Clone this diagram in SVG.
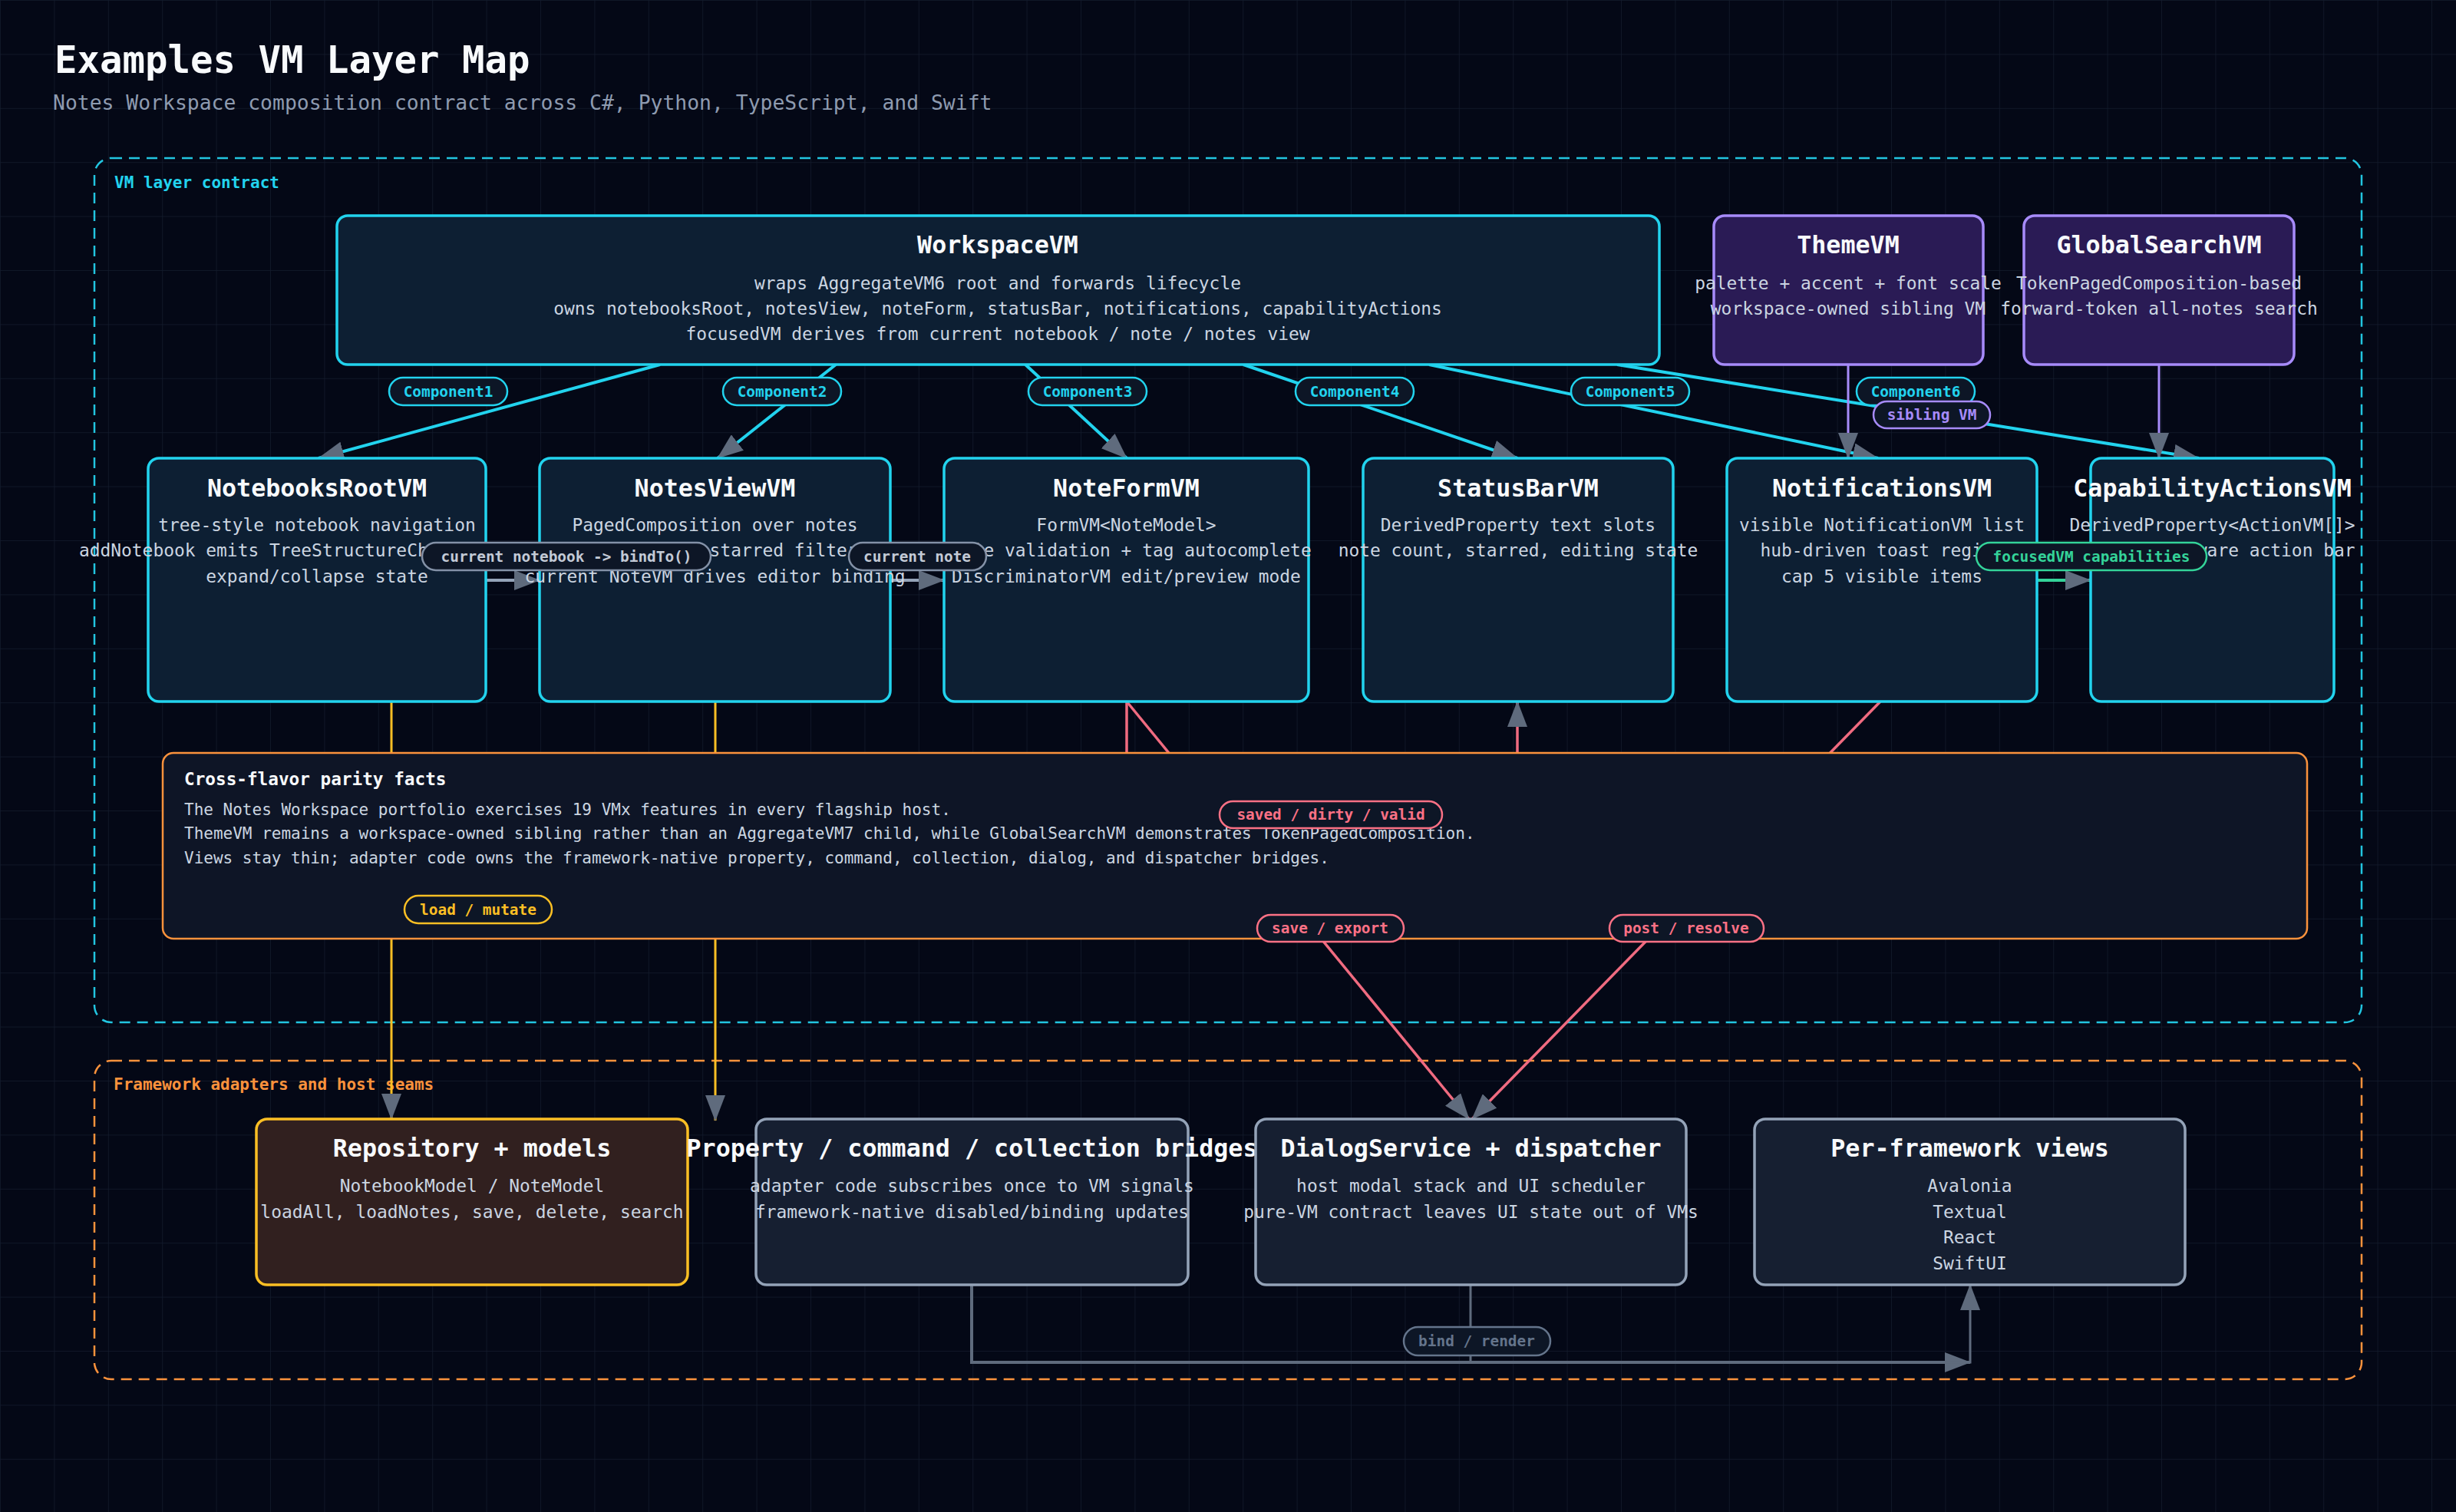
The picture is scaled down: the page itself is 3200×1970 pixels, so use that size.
<svg xmlns="http://www.w3.org/2000/svg" width="3200" height="1970" viewBox="0 0 3200 1970">
<defs>
<pattern id="grid" width="70.4" height="70.4" patternUnits="userSpaceOnUse">
<path d="M70.4 0 L0 0 L0 70.4" fill="none" stroke="#131b2d" stroke-width="1.5"/>
</pattern>
<marker id="arr" markerUnits="userSpaceOnUse" markerWidth="34" markerHeight="26" refX="33" refY="13" orient="auto">
<path d="M0,0 L34,13 L0,26 Z" fill="#5f6b7d"/>
</marker>
<style>
text{font-family:"DejaVu Sans Mono","Liberation Mono",monospace}
.ttl{font-size:31.7px;font-weight:700;fill:#f8fafc;text-anchor:middle}
.bd{font-size:22.9px;fill:#cbd5e1;text-anchor:middle}
.vm rect{fill:#0d1f33;stroke:#22d3ee;stroke-width:3.5}
.pv rect{fill:#2a1b55;stroke:#a78bfa;stroke-width:3.5}
.ad rect{fill:#161f31;stroke:#94a3b8;stroke-width:3.5}
.rp rect{fill:#31201f;stroke:#fbbf24;stroke-width:3.5}
.pl rect{fill:#0d1626;stroke-width:2.5}
.pl text{font-size:19.4px;font-weight:700;text-anchor:middle}
.c rect{stroke:#22d3ee}.c text{fill:#22d3ee}
.p rect{stroke:#a78bfa}.p text{fill:#a78bfa}
.g rect{stroke:#8391a7}.g text{fill:#c3cad6}
.gr rect{stroke:#34d399}.gr text{fill:#34d399}
.a rect{stroke:#fbbf24}.a text{fill:#fbbf24}
.r rect{stroke:#fb7185}.r text{fill:#fb7185}
.d rect{stroke:#64748b}.d text{fill:#64748b}
.e{fill:none}
</style>
</defs>
<rect width="3200" height="1970" fill="#040816"/>
<rect width="3200" height="1970" fill="url(#grid)"/>

<text x="71" y="95" font-size="49" font-weight="700" fill="#f8fafc">Examples VM Layer Map</text>
<text x="69" y="143" font-size="26.4" fill="#8e9bb0">Notes Workspace composition contract across C#, Python, TypeScript, and Swift</text>

<g id="group-vm-layer">
<rect x="123" y="206" width="2954" height="1126" rx="22" fill="none" stroke="#22c5e0" stroke-width="2.5" stroke-dasharray="14 9"/>
<text x="149" y="245" font-size="21" font-weight="700" fill="#22d3ee">VM layer contract</text>
</g>
<g id="group-framework">
<rect x="123" y="1382" width="2954" height="415" rx="22" fill="none" stroke="#fb923c" stroke-width="2.5" stroke-dasharray="14 9"/>
<text x="148" y="1420" font-size="21" font-weight="700" fill="#fb923c">Framework adapters and host seams</text>
</g>

<g id="connectors">
<path class="e" d="M860,475 L415,597" stroke="#22d3ee" stroke-width="4" marker-end="url(#arr)"/>
<path class="e" d="M1089,475 L935,597" stroke="#22d3ee" stroke-width="4" marker-end="url(#arr)"/>
<path class="e" d="M1336,475 L1468,597" stroke="#22d3ee" stroke-width="4" marker-end="url(#arr)"/>
<path class="e" d="M1620,475 L1977,597" stroke="#22d3ee" stroke-width="4" marker-end="url(#arr)"/>
<path class="e" d="M1862,475 L2447,597" stroke="#22d3ee" stroke-width="4" marker-end="url(#arr)"/>
<path class="e" d="M2107,475 L2865,597" stroke="#22d3ee" stroke-width="4" marker-end="url(#arr)"/>
<path class="e" d="M2408,475 L2408,597" stroke="#a78bfa" stroke-width="3" marker-end="url(#arr)"/>
<path class="e" d="M2813,475 L2813,597" stroke="#a78bfa" stroke-width="3" marker-end="url(#arr)"/>
<path class="e" d="M633,756 L703,756" stroke="#94a3b8" stroke-width="4" marker-end="url(#arr)"/>
<path class="e" d="M1160,756 L1230,756" stroke="#94a3b8" stroke-width="4" marker-end="url(#arr)"/>
<path class="e" d="M2654,756 L2724,756" stroke="#34d399" stroke-width="4" marker-end="url(#arr)"/>
<path class="e" d="M510,914 L510,1458" stroke="#fbbf24" stroke-width="3" marker-end="url(#arr)"/>
<path class="e" d="M932,914 L932,1460" stroke="#fbbf24" stroke-width="3" marker-end="url(#arr)"/>
<path class="e" d="M1468,914 V1061 H1977 V914" stroke="#f06b80" stroke-width="3.5" marker-end="url(#arr)"/>
<path class="e" d="M1468,914 L1914,1458" stroke="#f06b80" stroke-width="3.5" marker-end="url(#arr)"/>
<path class="e" d="M2450,914 L1918,1458" stroke="#f06b80" stroke-width="3.5" marker-end="url(#arr)"/>
<path class="e" d="M1266,1674 V1775 H2567" stroke="#5f6b7d" stroke-width="4" marker-end="url(#arr)"/>
<path class="e" d="M1916,1674 V1775 H2567 V1674" stroke="#5f6b7d" stroke-width="3" marker-end="url(#arr)"/>
</g>

<g id="node-workspacevm" class="vm">
<rect x="439" y="281" width="1723" height="194" rx="14"/>
<text class="ttl" x="1300" y="330">WorkspaceVM</text>
<text class="bd" x="1300" y="377">wraps AggregateVM6 root and forwards lifecycle</text>
<text class="bd" x="1300" y="410">owns notebooksRoot, notesView, noteForm, statusBar, notifications, capabilityActions</text>
<text class="bd" x="1300" y="443">focusedVM derives from current notebook / note / notes view</text>
</g>
<g id="node-themevm" class="pv">
<rect x="2233" y="281" width="351" height="194" rx="14"/>
<text class="ttl" x="2408" y="330">ThemeVM</text>
<text class="bd" x="2408" y="377">palette + accent + font scale</text>
<text class="bd" x="2408" y="410">workspace-owned sibling VM</text>
</g>
<g id="node-globalsearchvm" class="pv">
<rect x="2637" y="281" width="352" height="194" rx="14"/>
<text class="ttl" x="2813" y="330">GlobalSearchVM</text>
<text class="bd" x="2813" y="377">TokenPagedComposition-based</text>
<text class="bd" x="2813" y="410">forward-token all-notes search</text>
</g>

<g id="node-notebooksrootvm" class="vm">
<rect x="193" y="597" width="440" height="317" rx="14"/>
<text class="ttl" x="413" y="647">NotebooksRootVM</text>
<text class="bd" x="413" y="692">tree-style notebook navigation</text>
<text class="bd" x="413" y="725">addNotebook emits TreeStructureChanged events</text>
<text class="bd" x="413" y="759">expand/collapse state</text>
</g>
<g id="node-notesviewvm" class="vm">
<rect x="703" y="597" width="457" height="317" rx="14"/>
<text class="ttl" x="931.5" y="647">NotesViewVM</text>
<text class="bd" x="931.5" y="692">PagedComposition over notes</text>
<text class="bd" x="931.5" y="725">tag search + starred filter</text>
<text class="bd" x="931.5" y="759">current NoteVM drives editor binding</text>
</g>
<g id="node-noteformvm" class="vm">
<rect x="1230" y="597" width="475" height="317" rx="14"/>
<text class="ttl" x="1467.5" y="647">NoteFormVM</text>
<text class="bd" x="1467.5" y="692">FormVM&lt;NoteModel&gt;</text>
<text class="bd" x="1467.5" y="725">title validation + tag autocomplete</text>
<text class="bd" x="1467.5" y="759">DiscriminatorVM edit/preview mode</text>
</g>
<g id="node-statusbarvm" class="vm">
<rect x="1776" y="597" width="404" height="317" rx="14"/>
<text class="ttl" x="1978" y="647">StatusBarVM</text>
<text class="bd" x="1978" y="692">DerivedProperty text slots</text>
<text class="bd" x="1978" y="725">note count, starred, editing state</text>
</g>
<g id="node-notificationsvm" class="vm">
<rect x="2250" y="597" width="404" height="317" rx="14"/>
<text class="ttl" x="2452" y="647">NotificationsVM</text>
<text class="bd" x="2452" y="692">visible NotificationVM list</text>
<text class="bd" x="2452" y="725">hub-driven toast region</text>
<text class="bd" x="2452" y="759">cap 5 visible items</text>
</g>
<g id="node-capabilityactionsvm" class="vm">
<rect x="2724" y="597" width="317" height="317" rx="14"/>
<text class="ttl" x="2882.5" y="647">CapabilityActionsVM</text>
<text class="bd" x="2882.5" y="692">DerivedProperty&lt;ActionVM[]&gt;</text>
<text class="bd" x="2882.5" y="725">capability-aware action bar</text>
</g>

<g id="node-parity-facts">
<rect x="212" y="981" width="2794" height="242" rx="14" fill="#0e1526" stroke="#fb923c" stroke-width="2.5"/>
<text x="240" y="1023" font-size="22.7" font-weight="700" fill="#f8fafc">Cross-flavor parity facts</text>
<text x="240" y="1062" font-size="21" fill="#cbd5e1">The Notes Workspace portfolio exercises 19 VMx features in every flagship host.</text>
<text x="240" y="1093" font-size="21" fill="#cbd5e1">ThemeVM remains a workspace-owned sibling rather than an AggregateVM7 child, while GlobalSearchVM demonstrates TokenPagedComposition.</text>
<text x="240" y="1125" font-size="21" fill="#cbd5e1">Views stay thin; adapter code owns the framework-native property, command, collection, dialog, and dispatcher bridges.</text>
</g>

<g id="node-repository" class="rp">
<rect x="334" y="1458" width="562" height="216" rx="14"/>
<text class="ttl" x="615" y="1507">Repository + models</text>
<text class="bd" x="615" y="1553">NotebookModel / NoteModel</text>
<text class="bd" x="615" y="1587">loadAll, loadNotes, save, delete, search</text>
</g>
<g id="node-bridges" class="ad">
<rect x="985" y="1458" width="563" height="216" rx="14"/>
<text class="ttl" x="1266.5" y="1507">Property / command / collection bridges</text>
<text class="bd" x="1266.5" y="1553">adapter code subscribes once to VM signals</text>
<text class="bd" x="1266.5" y="1587">framework-native disabled/binding updates</text>
</g>
<g id="node-dialogservice" class="ad">
<rect x="1636" y="1458" width="561" height="216" rx="14"/>
<text class="ttl" x="1916.5" y="1507">DialogService + dispatcher</text>
<text class="bd" x="1916.5" y="1553">host modal stack and UI scheduler</text>
<text class="bd" x="1916.5" y="1587">pure-VM contract leaves UI state out of VMs</text>
</g>
<g id="node-views" class="ad">
<rect x="2286" y="1458" width="561" height="216" rx="14"/>
<text class="ttl" x="2566.5" y="1507">Per-framework views</text>
<text class="bd" x="2566.5" y="1553">Avalonia</text>
<text class="bd" x="2566.5" y="1587">Textual</text>
<text class="bd" x="2566.5" y="1620">React</text>
<text class="bd" x="2566.5" y="1654">SwiftUI</text>
</g>

<g id="edge-labels" class="pl">
<g class="c"><rect x="507" y="492" width="154" height="36" rx="18"/><text x="584" y="517">Component1</text></g>
<g class="c"><rect x="942" y="492" width="154" height="36" rx="18"/><text x="1019" y="517">Component2</text></g>
<g class="c"><rect x="1340" y="492" width="154" height="36" rx="18"/><text x="1417" y="517">Component3</text></g>
<g class="c"><rect x="1688" y="492" width="154" height="36" rx="18"/><text x="1765" y="517">Component4</text></g>
<g class="c"><rect x="2047" y="492" width="154" height="36" rx="18"/><text x="2124" y="517">Component5</text></g>
<g class="c"><rect x="2419" y="492" width="154" height="36" rx="18"/><text x="2496" y="517">Component6</text></g>
<g class="p"><rect x="2441" y="523" width="152" height="35" rx="17.5"/><text x="2517" y="547">sibling VM</text></g>
<g class="g"><rect x="550" y="707" width="376" height="36" rx="18"/><text x="738" y="732">current notebook -&gt; bindTo()</text></g>
<g class="g"><rect x="1106" y="707" width="179" height="36" rx="18"/><text x="1195" y="732">current note</text></g>
<g class="gr"><rect x="2575" y="707" width="300" height="36" rx="18"/><text x="2725" y="732">focusedVM capabilities</text></g>
<g class="a"><rect x="527" y="1167" width="192" height="36" rx="18"/><text x="623" y="1192">load / mutate</text></g>
<g class="r"><rect x="1589" y="1044" width="290" height="35" rx="17.5"/><text x="1734" y="1068">saved / dirty / valid</text></g>
<g class="r"><rect x="1638" y="1192" width="191" height="35" rx="17.5"/><text x="1733" y="1216">save / export</text></g>
<g class="r"><rect x="2097" y="1192" width="201" height="35" rx="17.5"/><text x="2197" y="1216">post / resolve</text></g>
<g class="d"><rect x="1829" y="1729" width="191" height="37" rx="18.5"/><text x="1924" y="1754">bind / render</text></g>
</g>
</svg>
